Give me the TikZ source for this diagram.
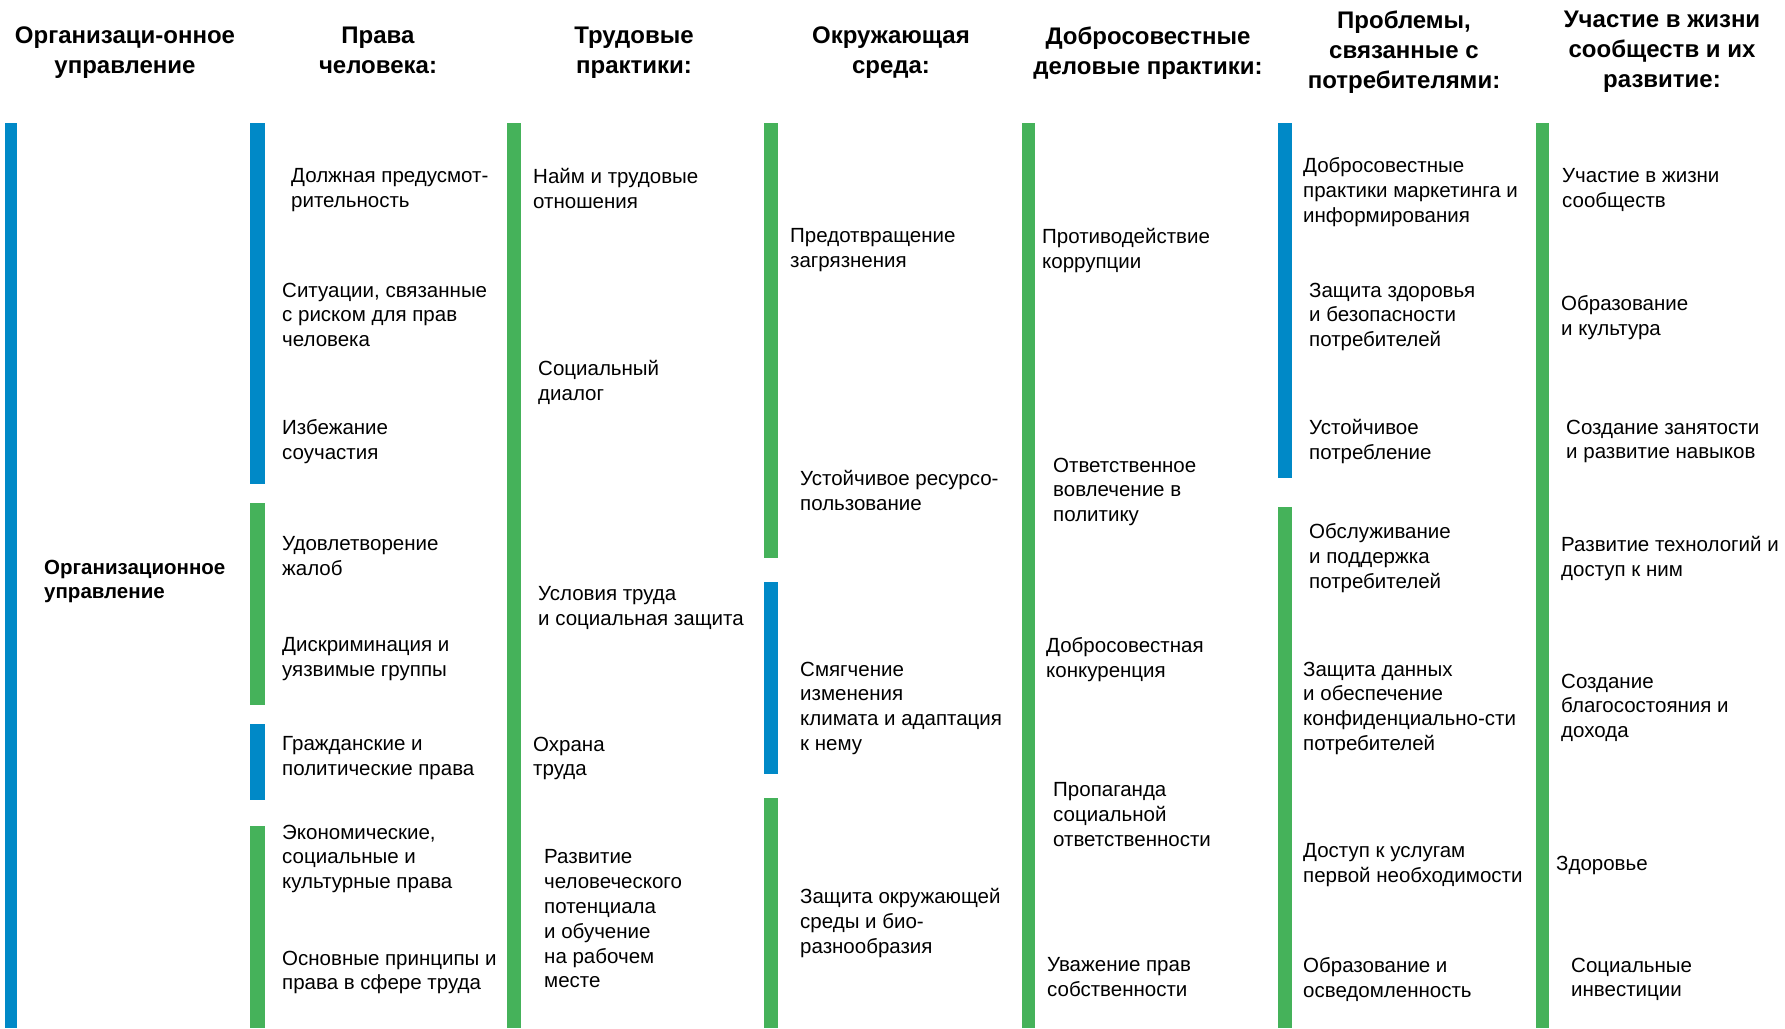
\documentclass[tikz,border=0pt]{standalone}
\usepackage{fontspec}
\setmainfont{Liberation Sans}
\definecolor{barblue}{RGB}{0,137,199}
\definecolor{bargreen}{RGB}{69,178,90}
\tikzset{
  head/.style={anchor=north, inner sep=0pt, align=center, font=\fontsize{24}{30}\selectfont\bfseries},
  item/.style={anchor=north west, inner sep=0pt, align=left, yshift=-3.5pt, font=\fontsize{20.5}{24.8}\selectfont},
  bitem/.style={item, font=\fontsize{20.5}{24.8}\selectfont\bfseries},
  bbar/.style={fill=barblue, draw=none},
  gbar/.style={fill=bargreen, draw=none},
}
\begin{document}
\begin{tikzpicture}[x=1pt,y=-1pt]
\useasboundingbox (0,0) rectangle (1785,1028);
\fill[white] (0,0) rectangle (1785,1028);
% headers
\node[head] (h1) at (125,26.5) {Организаци-онное\\управление};
\node[head] (h2) at (378,26.5) {Права\\человека:};
\node[head] (h3) at (634,26.5) {Трудовые\\практики:};
\node[head] (h4) at (891,26.5) {Окружающая\\среда:};
\node[head] (h5) at (1148,26.5) {Добросовестные\\деловые практики:};
\node[head] (h6) at (1404,10.5) {Проблемы,\\связанные с\\потребителями:};
\node[head] (h7) at (1662,10.5) {Участие в жизни\\сообществ и их\\развитие:};
% bars
\fill[bbar] (5,123) rectangle (17,1028);
\fill[bbar] (250,123) rectangle (265,484);
\fill[gbar] (250,503) rectangle (265,705);
\fill[bbar] (250,724) rectangle (265,800);
\fill[gbar] (250,826) rectangle (265,1028);
\fill[gbar] (507,123) rectangle (521,1028);
\fill[gbar] (764,123) rectangle (778,558);
\fill[bbar] (764,582) rectangle (778,774);
\fill[gbar] (764,798) rectangle (778,1028);
\fill[gbar] (1022,123) rectangle (1035,1028);
\fill[bbar] (1278,123) rectangle (1292,478);
\fill[gbar] (1278,507) rectangle (1292,1028);
\fill[gbar] (1536,123) rectangle (1549,1028);
% column 1
\node[bitem] (a1) at (44,556) {Организационное\\управление};
% column 2
\node[item] (b1) at (291,165) {Должная предусмот-\\рительность};
\node[item] (b2) at (282,279) {Ситуации, связанные\\с риском для прав\\человека};
\node[item] (b3) at (282,416) {Избежание\\соучастия};
\node[item] (b4) at (282,533) {Удовлетворение\\жалоб};
\node[item] (b5) at (282,634) {Дискриминация и\\уязвимые группы};
\node[item] (b6) at (282,733) {Гражданские и\\политические права};
\node[item] (b7) at (282,821) {Экономические,\\социальные и\\культурные права};
\node[item] (b8) at (282,947) {Основные принципы и\\права в сфере труда};
% column 3
\node[item] (c1) at (533,165) {Найм и трудовые\\отношения};
\node[item] (c2) at (538,357) {Социальный\\диалог};
\node[item] (c3) at (538,583) {Условия труда\\и социальная защита};
\node[item] (c4) at (533,733) {Охрана\\труда};
\node[item] (c5) at (544,846) {Развитие\\человеческого\\потенциала\\и обучение\\на рабочем\\месте};
% column 4
\node[item] (d1) at (790,225) {Предотвращение\\загрязнения};
\node[item] (d2) at (800,467) {Устойчивое ресурсо-\\пользование};
\node[item] (d3) at (800,658) {Смягчение\\изменения\\климата и адаптация\\к нему};
\node[item] (d4) at (800,885) {Защита окружающей\\среды и био-\\разнообразия};
% column 5
\node[item] (e1) at (1042,225) {Противодействие\\коррупции};
\node[item] (e2) at (1053,454) {Ответственное\\вовлечение в\\политику};
\node[item] (e3) at (1046,634) {Добросовестная\\конкуренция};
\node[item] (e4) at (1053,779) {Пропаганда\\социальной\\ответственности};
\node[item] (e5) at (1047,954) {Уважение прав\\собственности};
% column 6
\node[item] (f1) at (1303,154) {Добросовестные\\практики маркетинга и\\информирования};
\node[item] (f2) at (1309,279) {Защита здоровья\\и безопасности\\потребителей};
\node[item] (f3) at (1309,416) {Устойчивое\\потребление};
\node[item] (f4) at (1309,520) {Обслуживание\\и поддержка\\потребителей};
\node[item] (f5) at (1303,658) {Защита данных\\и обеспечение\\конфиденциально-сти\\потребителей};
\node[item] (f6) at (1303,840) {Доступ к услугам\\первой необходимости};
\node[item] (f7) at (1303,954) {Образование и\\осведомленность};
% column 7
\node[item] (g1) at (1562,165) {Участие в жизни\\сообществ};
\node[item] (g2) at (1561,292) {Образование\\и культура};
\node[item] (g3) at (1566,416) {Создание занятости\\и развитие навыков};
\node[item] (g4) at (1561,533) {Развитие технологий и\\доступ к ним};
\node[item] (g5) at (1561,670) {Создание\\благосостояния и\\дохода};
\node[item] (g6) at (1556,852) {Здоровье};
\node[item] (g7) at (1571,954) {Социальные\\инвестиции};
\end{tikzpicture}
\end{document}
